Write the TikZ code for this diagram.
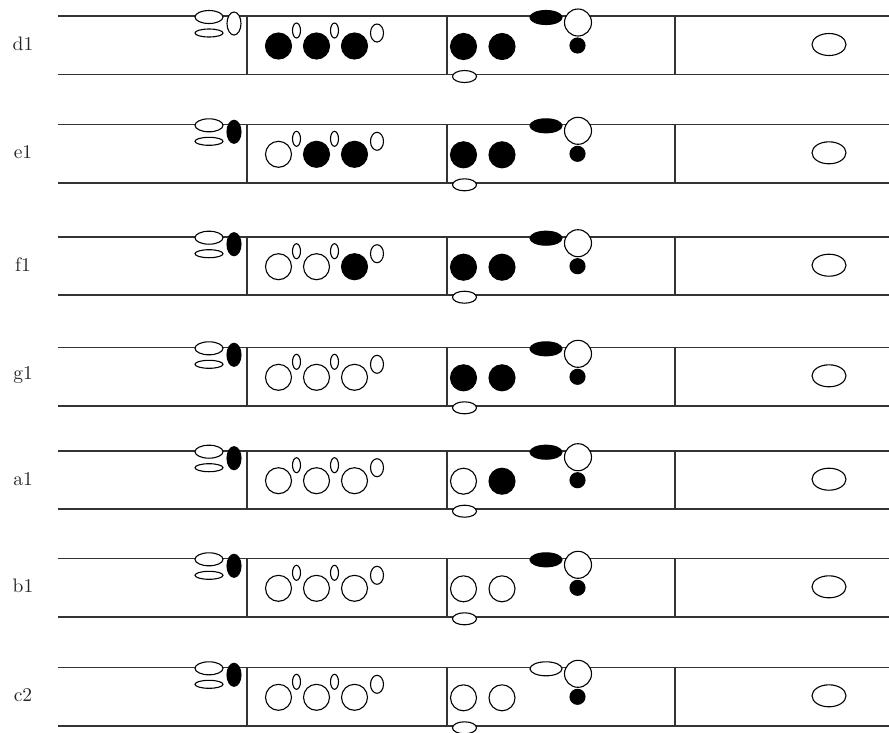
\documentclass[tikz,border=0pt]{standalone}
\usepackage{tikz}
\usetikzlibrary{calc}
\tikzset{
  staff/.style={line width=1.6pt,black!80},
  hole/.style={draw=black,line width=1.1pt},
  rowlabel/.style={text=black!85,inner sep=0pt,scale=1.95}
}
\begin{document}
\begin{tikzpicture}[x=1pt,y=-1pt]
  \useasboundingbox (0,0) rectangle (889,732);
  % one row per note: top line, name, fills of the holes
  \foreach \rowy/\name/\thumb/\ha/\hb/\hc/\hd/\he/\key in {
    16/d1/white/black/black/black/black/black/black,
    124.3/e1/black/white/black/black/black/black/black,
    236.7/f1/black/white/white/black/black/black/black,
    347.3/g1/black/white/white/white/black/black/black,
    450.7/a1/black/white/white/white/white/black/black,
    558.3/b1/black/white/white/white/white/white/black,
    667.3/c2/black/white/white/white/white/white/white}{
    \node[rowlabel] at (23,\rowy+28) {\name};
    \draw[staff] (58,\rowy) -- (889,\rowy) (58,\rowy+58.5) -- (889,\rowy+58.5);
    \foreach \xx in {247,447,675}
      \draw[staff] (\xx,\rowy) -- (\xx,\rowy+58.5);
    % left keys
    \draw[hole,fill=white] (209,\rowy+1) ellipse [x radius=14pt,y radius=6.5pt];
    \draw[hole,fill=white] (209,\rowy+17) ellipse [x radius=14pt,y radius=4pt];
    \draw[hole,fill=\thumb] (234,\rowy+7.5) ellipse [x radius=7pt,y radius=11.5pt];
    % upper hand
    \draw[hole,fill=\ha] (278.5,\rowy+30) circle [radius=13pt];
    \draw[hole,fill=\hb] (316.5,\rowy+30) circle [radius=13pt];
    \draw[hole,fill=\hc] (354.5,\rowy+30) circle [radius=13pt];
    \draw[hole,fill=white] (296.5,\rowy+14.5) ellipse [x radius=4pt,y radius=7.5pt];
    \draw[hole,fill=white] (334.5,\rowy+14.5) ellipse [x radius=4pt,y radius=7.5pt];
    \draw[hole,fill=white] (377,\rowy+17) ellipse [x radius=6.5pt,y radius=9pt];
    % lower hand
    \draw[hole,fill=\hd] (463.5,\rowy+30.5) circle [radius=13pt];
    \draw[hole,fill=\he] (502,\rowy+30.5) circle [radius=13pt];
    \draw[hole,fill=white] (464.5,\rowy+60.5) ellipse [x radius=12pt,y radius=6pt];
    \draw[hole,fill=\key] (546,\rowy+1.5) ellipse [x radius=16pt,y radius=7pt];
    \draw[hole,fill=white] (578,\rowy+6.5) circle [radius=13.5pt];
    \draw[hole,fill=black] (577.5,\rowy+29.5) circle [radius=7.5pt];
    % bell
    \draw[hole,fill=white] (829,\rowy+28.5) ellipse [x radius=17pt,y radius=11pt];
  }
\end{tikzpicture}
\end{document}
